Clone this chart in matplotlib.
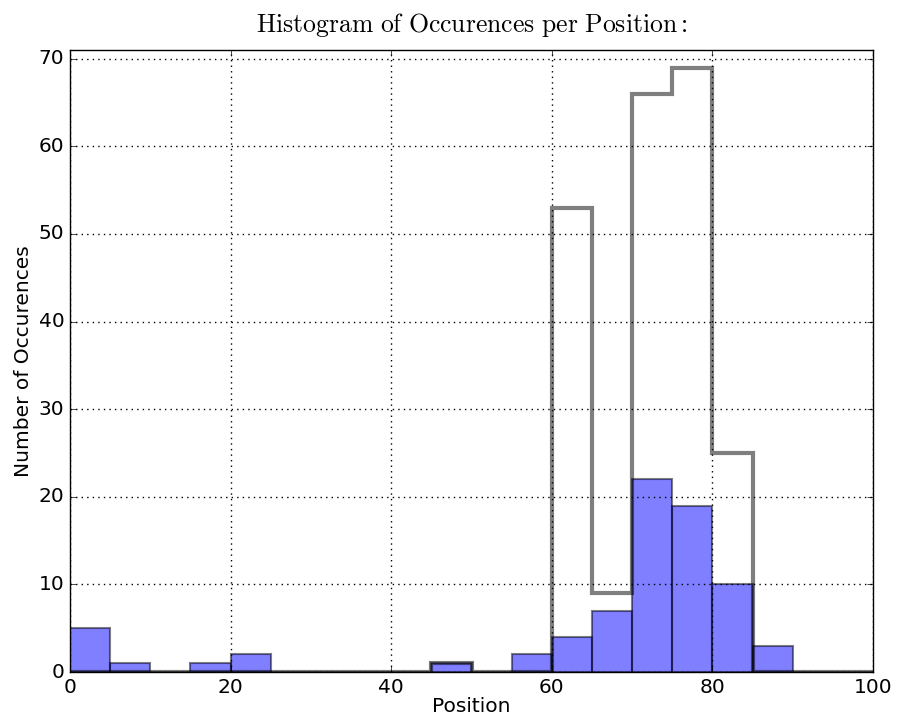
import numpy as np
import matplotlib
matplotlib.use("Agg")
import matplotlib.pyplot as plt

plt.style.use("classic")
plt.rcParams["mathtext.fontset"] = "cm"

# Bin edges (width 5 over 0..100)
bin_edges = list(range(0, 105, 5))

# Counts per bin for the filled histogram
filled_counts = [5, 1, 0, 1, 2, 0, 0, 0, 0, 1, 0, 2, 4, 7, 22, 19, 10, 3, 0, 0]
# Counts per bin for the outline histogram
outline_counts = [0, 0, 0, 0, 0, 0, 0, 0, 0, 1, 0, 0, 53, 9, 66, 69, 25, 0, 0, 0]

x_ticks = [0, 20, 40, 60, 80, 100]
y_ticks = [0, 10, 20, 30, 40, 50, 60, 70]

fig = plt.figure(figsize=(8.97, 7.24), dpi=100, facecolor="white")
ax = fig.add_axes([70 / 897, 1 - 672 / 724, 803 / 897, 622 / 724])

lefts = np.array(bin_edges[:-1], dtype=float)
ax.hist(lefts, bins=bin_edges, weights=filled_counts, color="b", alpha=0.5,
        edgecolor="k", linewidth=1.5)
ax.hist(lefts, bins=bin_edges, weights=outline_counts, histtype="step",
        color="k", alpha=0.5, linewidth=3)

ax.set_xlim(0, 100)
ax.set_ylim(0, 71)
ax.set_xticks(x_ticks)
ax.set_yticks(y_ticks)
ax.grid(True, color="k", linestyle=":", linewidth=1)
ax.tick_params(labelsize=14.5)

ax.set_title(r"$\mathrm{Histogram\ of\ Occurences\ per\ Position:}$",
             fontsize=18.5, pad=13)
ax.set_xlabel("Position", fontsize=14.5, labelpad=0)
ax.set_ylabel("Number of Occurences", fontsize=14.5, labelpad=4)

fig.savefig("out.png", dpi=100, facecolor="white")
